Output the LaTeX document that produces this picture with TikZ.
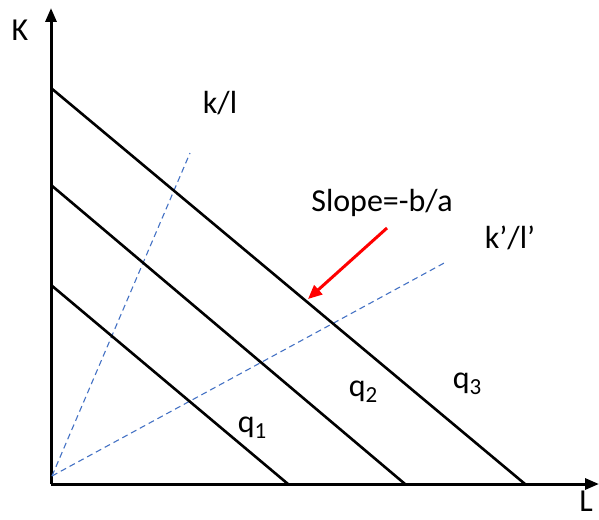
\documentclass[tikz,border=0pt]{standalone}
\usepackage{fontspec}
\setmainfont{Carlito}
\usetikzlibrary{arrows.meta}
\definecolor{rayblue}{RGB}{68,114,196}
\newcommand{\qsub}[1]{q\raisebox{-6pt}{\fontsize{23}{25}\selectfont #1}}
\begin{document}
\begin{tikzpicture}[x=1pt, y=-1pt,
  axis/.style={line width=3pt, -{Triangle[length=14pt,width=11pt]}},
  isoquant/.style={line width=2.6pt},
  ray/.style={rayblue, line width=1.1pt, dash pattern=on 6pt off 4pt},
  lbl/.style={font=\fontsize{32}{35}\selectfont, inner sep=0pt}]
\useasboundingbox (0,0) rectangle (599,519);
% axes
\coordinate (O) at (51,484);
\draw[axis] (O) -- (51,8);
\draw[axis] (O) -- (599,484);
\node[lbl] (K) at (20,30) {K};
\node[lbl] (L) at (586,501) {L};
% factor ratio rays
\coordinate (r0) at (52,476);
\draw[ray] (r0) -- (190,153);
\draw[ray] (r0) -- (446,262);
\node[lbl] (kl) at (220,103) {k/l};
\node[lbl] (klp) at (510,238) {k’/l’};
% isoquants
\draw[isoquant] (51,285) -- (288,484);
\draw[isoquant] (51,185) -- (405,484);
\draw[isoquant] (51,88) -- (525,484);
\node[lbl] (q1) at (252,428) {\qsub{1}};
\node[lbl] (q2) at (363,392) {\qsub{2}};
\node[lbl] (q3) at (467,384) {\qsub{3}};
% slope marker
\node[lbl] (slope) at (382,203) {Slope=-b/a};
\coordinate (tip) at (308,299);
\draw[red, line width=3pt, -{Triangle[length=14pt,width=12pt]}] (387,228) -- (tip);
\end{tikzpicture}
\end{document}
